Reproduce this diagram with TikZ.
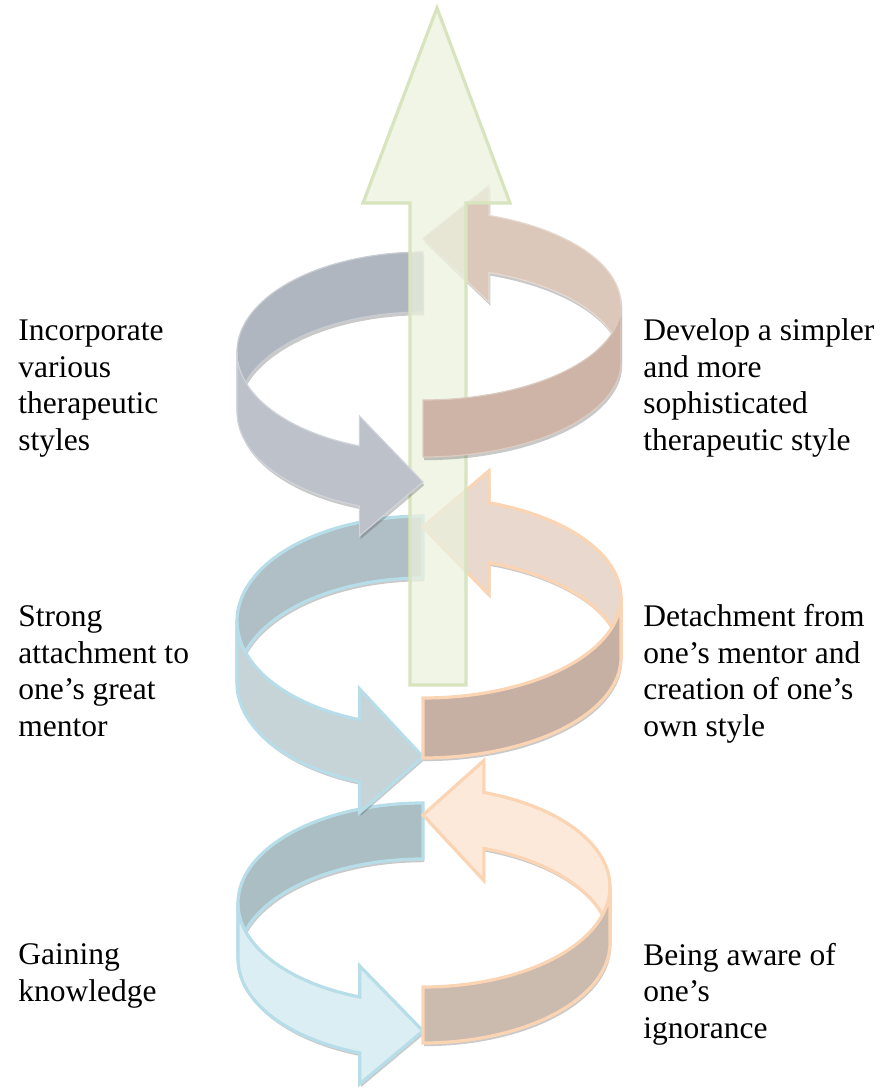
\documentclass[tikz,border=0pt]{standalone}
\usepackage{fontspec}
\setmainfont{Liberation Serif}
\usepackage{tikz}
\usetikzlibrary{shadows}

\definecolor{ringblue}{HTML}{B7DDE8}
\definecolor{ringorange}{HTML}{FBD4B4}
\definecolor{greenfill}{HTML}{EBF1DE}
\definecolor{greenline}{HTML}{D7E4BD}
\definecolor{bluefrontA}{HTML}{DAEEF3}
\definecolor{bluebackA}{HTML}{ABBEC3}
\definecolor{orangebackA}{HTML}{FDE9D9}
\definecolor{orangefrontA}{HTML}{CBBBAE}
\definecolor{bluefrontB}{HTML}{C6D3D7}
\definecolor{bluebackB}{HTML}{AFBFC5}
\definecolor{orangebackB}{HTML}{E8D8CD}
\definecolor{orangefrontB}{HTML}{C6B0A3}
\definecolor{bluefrontC}{HTML}{BCC1CA}
\definecolor{bluebackC}{HTML}{B0B6C0}
\definecolor{orangebackC}{HTML}{DCC8BB}
\definecolor{orangefrontC}{HTML}{CDB4A6}

% ring parameters: centre x, centre y, x radius, y radius, band height
\newcommand{\setring}[5]{\def\rcx{#1}\def\rcy{#2}\def\ra{#3}\def\rb{#4}\def\rh{#5}}
% plain part of a band: style, from angle, to angle
\newcommand{\bandpart}[3]{%
  \path[#1] plot[domain=#2:#3,samples=40] ({\rcx+\ra*cos(\x)},{\rcy+\rb*sin(\x)})
    -- plot[domain=#3:#2,samples=40] ({\rcx+\ra*cos(\x)},{\rcy+\rb*sin(\x)+\rh}) -- cycle;}
% band with head: style, from angle, wing angle, tip angle, wing size
\newcommand{\headpart}[5]{%
  \path[#1] plot[domain=#2:#3,samples=40] ({\rcx+\ra*cos(\x)},{\rcy+\rb*sin(\x)})
    -- ({\rcx+\ra*cos(#3)},{\rcy+\rb*sin(#3)-#5})
    -- ({\rcx+\ra*cos(#4)},{\rcy+\rb*sin(#4)+\rh/2})
    -- ({\rcx+\ra*cos(#3)},{\rcy+\rb*sin(#3)+\rh+#5})
    -- plot[domain=#3:#2,samples=40] ({\rcx+\ra*cos(\x)},{\rcy+\rb*sin(\x)+\rh}) -- cycle;}

\tikzset{
  piece/.style={line width=1.6pt,
    drop shadow={shadow xshift=0.6pt,shadow yshift=-1.6pt,opacity=0.3,fill=black!70}},
  bluepiece/.style={piece,draw=ringblue,fill=#1},
  orangepiece/.style={piece,draw=ringorange,fill=#1},
  greypiece/.style={piece,line width=0.6pt,draw=#1!70!white,fill=#1},
  lbl/.style={align=left,inner sep=0pt,anchor=base west,
    font=\fontsize{15.75}{18.25}\selectfont}
}

\begin{document}
\begin{tikzpicture}[x=0.5pt,y=-0.5pt]
  \useasboundingbox (0,0) rectangle (882,1089);

  % back parts of the three rings
  \setring{423}{352}{186}{100}{60}
  \bandpart{greypiece=bluebackC}{270}{180}
  \setring{423}{305}{198}{95}{57}
  \headpart{greypiece=orangebackC}{0}{-70.5}{-90}{30}

  \setring{423}{621}{186}{105}{62}
  \bandpart{bluepiece=bluebackB}{270}{180}
  \setring{423}{597.5}{198}{100.5}{60}
  \headpart{orangepiece=orangebackB}{0}{-70.5}{-90}{32}

  \setring{423}{903}{185}{100}{56}
  \bandpart{bluepiece=bluebackA}{270}{180}
  \setring{423}{887}{187}{100}{56}
  \headpart{orangepiece=orangebackA}{0}{-71}{-90}{32}

  % upward arrow
  \draw[line width=1.6pt,draw=greenline,fill=greenfill,fill opacity=0.75]
    (410,685) -- (410,203) -- (363,203) -- (437,8) -- (510,203) -- (466,203)
    -- (466,685) -- cycle;

  % front parts
  \setring{423}{352}{186}{100}{60}
  \headpart{greypiece=bluefrontC}{180}{110}{90}{30}
  \setring{423}{305}{198}{95}{57}
  \bandpart{greypiece=orangefrontC}{90}{0}

  \setring{423}{621}{186}{105}{62}
  \headpart{bluepiece=bluefrontB}{180}{110}{90}{31}
  \setring{423}{597.5}{198}{100.5}{60}
  \bandpart{orangepiece=orangefrontB}{90}{0}

  \setring{423}{903}{185}{100}{56}
  \headpart{bluepiece=bluefrontA}{180}{110}{90}{31}
  \setring{423}{887}{187}{100}{56}
  \bandpart{orangepiece=orangefrontA}{90}{0}

  % labels (placed at the baseline of their last line)
  \node[lbl] (inc) at (18,450) {Incorporate\\various\\therapeutic\\styles};
  \node[lbl] (dev) at (643,450) {Develop a simpler\\and more\\sophisticated\\therapeutic style};
  \node[lbl] (str) at (18,736) {Strong\\attachment to\\one's great\\mentor};
  \node[lbl] (det) at (643,736) {Detachment from\\one's mentor and\\creation of one's\\own style};
  \node[lbl] (gai) at (18,1001) {Gaining\\knowledge};
  \node[lbl] (bei) at (643,1038) {Being aware of\\one's\\ignorance};
\end{tikzpicture}
\end{document}
